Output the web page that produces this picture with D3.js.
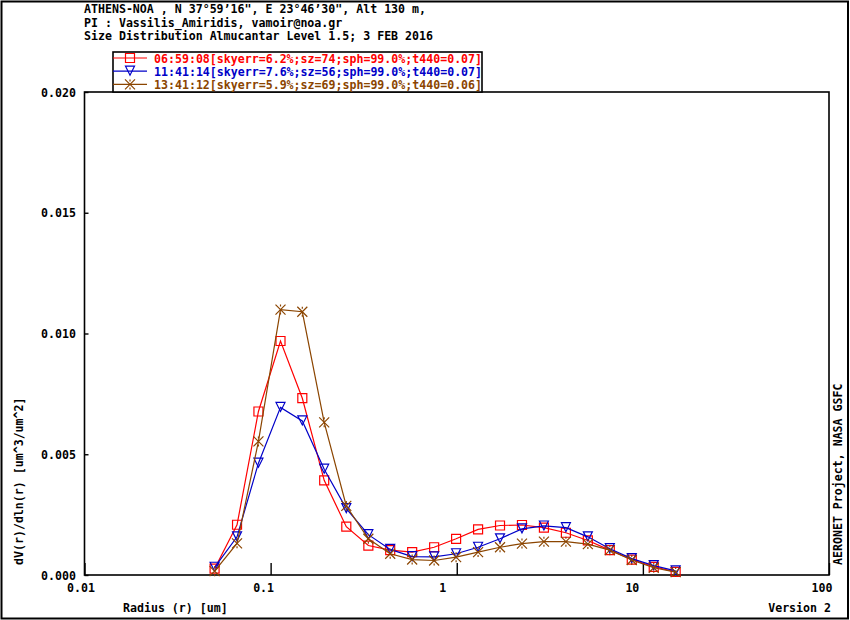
<!DOCTYPE html>
<html>
<head>
<meta charset="utf-8">
<script src="https://cdn.jsdelivr.net/npm/d3@7/dist/d3.min.js"></script>
<style>
  body { margin: 0; background: #fff; }
  text { font-family: "DejaVu Sans Mono", monospace; font-weight: bold; font-size: 11.6px; }
</style>
</head>
<body>
<div id="chart"></div>
<script>
// Radius bins [um]
const radius = [0.050, 0.066, 0.086, 0.113, 0.148, 0.194, 0.255, 0.335, 0.439, 0.576, 0.756,
  0.992, 1.302, 1.708, 2.241, 2.940, 3.859, 5.063, 6.643, 8.717, 11.438, 15.000];

// dV(r)/dln(r) for each almucantar
const run0659 = [0.00026, 0.00208, 0.00677, 0.00969, 0.00732, 0.00392, 0.00200, 0.00122, 0.00103, 0.00095, 0.00115,
  0.00150, 0.00189, 0.00205, 0.00207, 0.00196, 0.00175, 0.00143, 0.00103, 0.00064, 0.00034, 0.00013];
const run1141 = [0.00032, 0.00158, 0.00463, 0.00694, 0.00638, 0.00438, 0.00275, 0.00167, 0.00106, 0.00076, 0.00075,
  0.00088, 0.00115, 0.00150, 0.00191, 0.00203, 0.00196, 0.00158, 0.00109, 0.00068, 0.00039, 0.00017];
const run1341 = [0.00016, 0.00131, 0.00553, 0.01099, 0.01090, 0.00632, 0.00286, 0.00150, 0.00088, 0.00064, 0.00060,
  0.00074, 0.00095, 0.00115, 0.00130, 0.00138, 0.00138, 0.00128, 0.00103, 0.00062, 0.00030, 0.00012];

const seriesLabels = [
  '06:59:08[skyerr=6.2%;sz=74;sph=99.0%;t440=0.07]',
  '11:41:14[skyerr=7.6%;sz=56;sph=99.0%;t440=0.07]',
  '13:41:12[skyerr=5.9%;sz=69;sph=99.0%;t440=0.06]'
];
const seriesColors = ['#ff0000', '#0000c8', '#8b4500'];
const seriesMarkers = ['square', 'triangle', 'cross'];

const titleLines = [
  'ATHENS-NOA , N 37\u00b059\u201916", E 23\u00b046\u201930", Alt 130 m,',
  'PI : Vassilis_Amiridis, vamoir@noa.gr',
  'Size Distribution Almucantar Level 1.5; 3 FEB 2016'
];

const xTicks = [0.01, 0.1, 1, 10, 100];
const yTicks = [0, 0.005, 0.010, 0.015, 0.020];

const W = 850, H = 620;
const plotL = 84.5, plotR = 829, plotT = 92, plotB = 575;

const svg = d3.select('#chart').append('svg')
  .attr('width', W)
  .attr('height', H);

const x = d3.scaleLog().domain([0.01, 100]).range([plotL, plotR]);
const y = d3.scaleLinear().domain([0, 0.02]).range([plotB, plotT]);

// outer frame
svg.append('rect')
  .attr('x', 1.5).attr('y', 1.5)
  .attr('width', W - 3.5).attr('height', H - 3)
  .attr('fill', 'none').attr('stroke', '#000').attr('stroke-width', 2);

// title
svg.selectAll('.title')
  .data(titleLines)
  .enter()
  .append('text')
  .attr('x', 84)
  .attr('y', (d, i) => 13 + i * 13.5)
  .text(d => d);

// plot frame
svg.append('rect')
  .attr('x', plotL).attr('y', plotT)
  .attr('width', plotR - plotL).attr('height', plotB - plotT)
  .attr('fill', 'none').attr('stroke', '#000').attr('stroke-width', 1.6);

// bottom axis: tick marks at decades, labels left-anchored
const xAxis = svg.append('g')
  .attr('transform', `translate(0,${plotB})`)
  .call(d3.axisBottom(x).tickValues(xTicks).tickSize(-12).tickPadding(8.5)
    .tickFormat(d => String(d)));
xAxis.select('.domain').remove();
xAxis.selectAll('line').attr('stroke', '#000').attr('stroke-width', 1.4);
xAxis.selectAll('text')
  .attr('text-anchor', 'start')
  .attr('dx', -18)
  .attr('fill', '#000')
  .style('font-family', '"DejaVu Sans Mono", monospace')
  .style('font-size', '11.6px');

// left axis
const yAxis = svg.append('g')
  .attr('transform', `translate(${plotL},0)`)
  .call(d3.axisLeft(y).tickValues(yTicks).tickSize(-4).tickPadding(8.5)
    .tickFormat(d3.format('.3f')));
yAxis.select('.domain').remove();
yAxis.selectAll('line').attr('stroke', '#000').attr('stroke-width', 1.4);
yAxis.selectAll('text')
  .attr('fill', '#000')
  .attr('dy', '0.36em')
  .style('font-family', '"DejaVu Sans Mono", monospace')
  .style('font-size', '11.6px');

// axis titles
svg.append('text')
  .attr('transform', 'translate(23,565) rotate(-90)')
  .text('dV(r)/dln(r) [um^3/um^2]');
svg.append('text')
  .attr('transform', 'translate(842,565) rotate(-90)')
  .text('AERONET Project, NASA GSFC');
svg.append('text')
  .attr('x', 123).attr('y', 612)
  .text('Radius (r) [um]');
svg.append('text')
  .attr('x', 831).attr('y', 612)
  .attr('text-anchor', 'end')
  .text('Version 2');

// marker shapes
function marker(kind) {
  if (kind === 'square') return 'M-4.5,-4.5H4.5V4.5H-4.5Z';
  if (kind === 'triangle') return 'M-4.5,-5H4.5L0,4Z';
  return 'M-5,-5L5,5M5,-5L-5,5M0,-5V-3M0,3V5';
}

const series = [run0659, run1141, run1341].map((vals, i) => ({
  label: seriesLabels[i],
  color: seriesColors[i],
  marker: seriesMarkers[i],
  points: vals.map((v, j) => ({ r: radius[j], v }))
}));

const line = d3.line()
  .x(d => x(d.r))
  .y(d => y(d.v));

const groups = svg.selectAll('.series')
  .data(series)
  .enter()
  .append('g');

groups.append('path')
  .attr('fill', 'none')
  .attr('stroke', d => d.color)
  .attr('stroke-width', 1.2)
  .attr('d', d => line(d.points));

groups.each(function (s) {
  d3.select(this).selectAll('.pt')
    .data(s.points)
    .enter()
    .append('path')
    .attr('transform', d => `translate(${x(d.r)},${y(d.v)})`)
    .attr('d', marker(s.marker))
    .attr('fill', 'none')
    .attr('stroke', s.color)
    .attr('stroke-width', 1.2);
});

// legend
svg.append('rect')
  .attr('x', 113).attr('y', 52)
  .attr('width', 369).attr('height', plotT - 52)
  .attr('fill', '#fff').attr('stroke', '#000').attr('stroke-width', 1.6);

const leg = svg.selectAll('.leg')
  .data(series)
  .enter()
  .append('g')
  .attr('transform', (d, i) => `translate(0,${58 + i * 13.2})`);

leg.append('line')
  .attr('x1', 113).attr('x2', 147)
  .attr('stroke', d => d.color).attr('stroke-width', 1.2);
leg.append('path')
  .attr('transform', 'translate(130,0)')
  .attr('d', d => marker(d.marker))
  .attr('fill', 'none')
  .attr('stroke', d => d.color)
  .attr('stroke-width', 1.2);
leg.append('text')
  .attr('x', 154).attr('y', 4.5)
  .attr('fill', d => d.color)
  .text(d => d.label);
</script>
</body>
</html>
